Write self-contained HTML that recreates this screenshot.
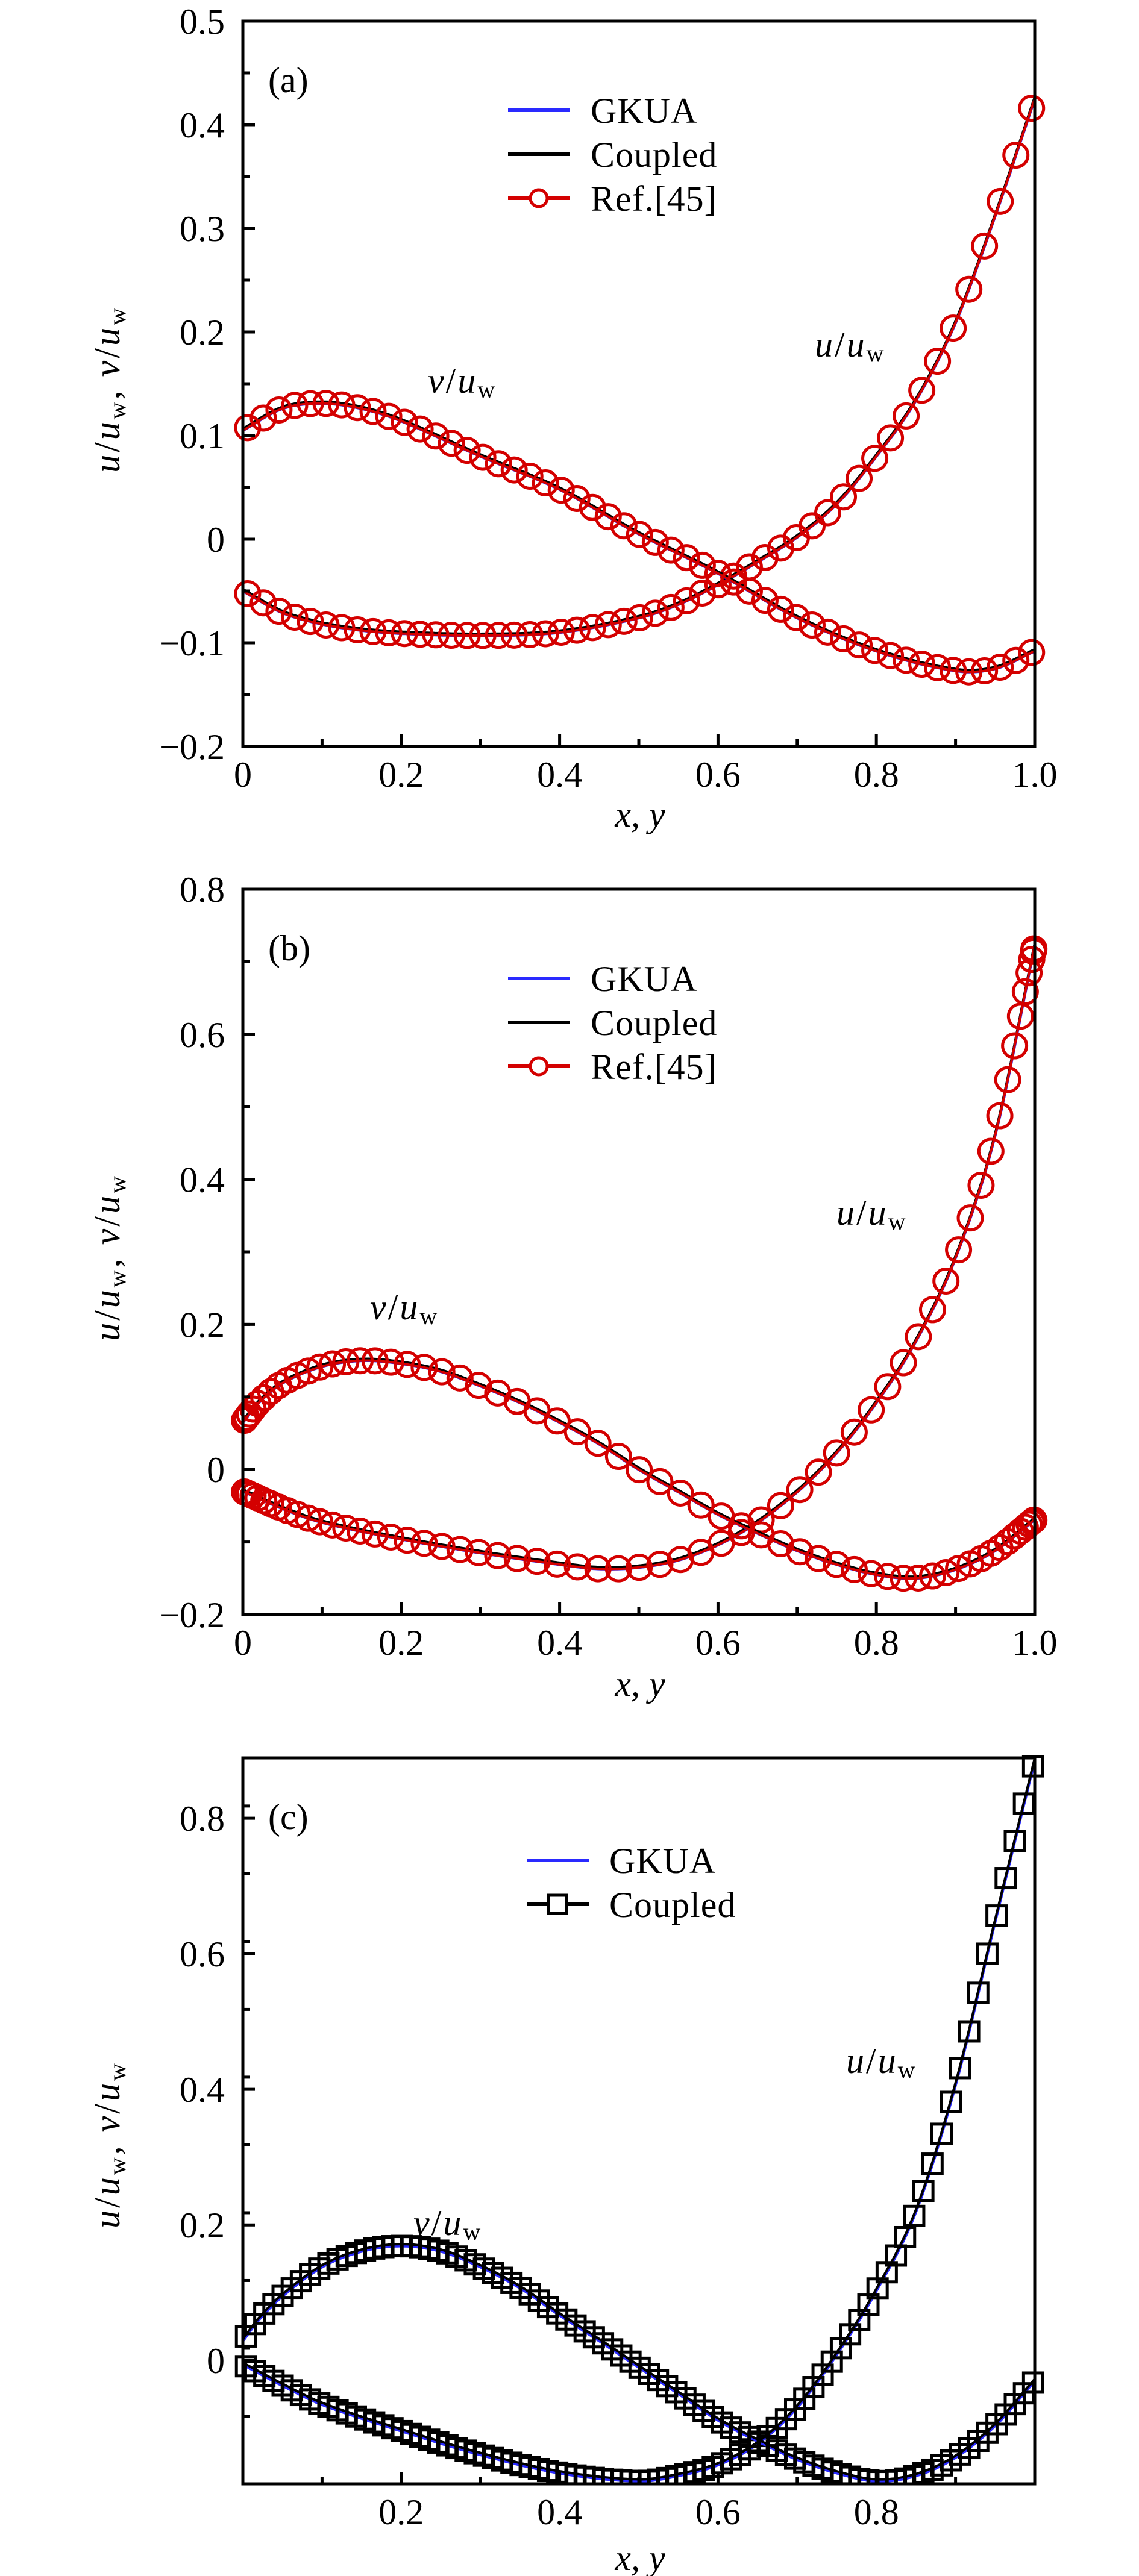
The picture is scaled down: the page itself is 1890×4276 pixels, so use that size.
<!DOCTYPE html>
<html><head><meta charset="utf-8">
<style>
html,body{margin:0;padding:0;background:#fff;}
svg{display:block;font-family:"Liberation Serif","DejaVu Serif",serif;}
</style></head>
<body>
<svg id="fig" xmlns="http://www.w3.org/2000/svg" width="1890" height="4276" viewBox="0 0 1890 4276"></svg>
<script>
// ---------- Panel (a) data ----------
const aX = [0,0.05,0.1,0.15,0.2,0.3,0.4,0.5,0.55,0.6,0.65,0.7,0.75,0.8,0.85,0.9,0.95,1.0];
const aU = [-0.05,-0.071,-0.082,-0.088,-0.091,-0.093,-0.090,-0.076,-0.063,-0.044,-0.022,0.002,0.034,0.080,0.134,0.209,0.312,0.425];
const aVx = [0,0.05,0.1,0.15,0.2,0.3,0.4,0.5,0.6,0.7,0.8,0.9,0.95,1.0];
const aV = [0.105,0.126,0.131,0.126,0.114,0.080,0.048,0.005,-0.033,-0.076,-0.108,-0.127,-0.125,-0.108];
const aYTicks = [0.5,0.4,0.3,0.2,0.1,0,-0.1,-0.2];
const aYLabels = ["0.5","0.4","0.3","0.2","0.1","0","\u22120.1","\u22120.2"];
// ---------- Panel (b) data ----------
const bX = [0,0.05,0.1,0.2,0.3,0.4,0.45,0.5,0.55,0.6,0.65,0.7,0.75,0.8,0.85,0.9,0.95,1.0];
const bU = [-0.03,-0.054,-0.073,-0.096,-0.115,-0.131,-0.137,-0.135,-0.125,-0.104,-0.073,-0.031,0.023,0.092,0.177,0.292,0.461,0.723];
const bVx = [0,0.02,0.05,0.1,0.15,0.2,0.25,0.3,0.35,0.4,0.45,0.5,0.55,0.6,0.65,0.7,0.75,0.8,0.85,0.9,0.95,1.0];
const bV = [0.065,0.092,0.119,0.142,0.150,0.146,0.135,0.115,0.092,0.065,0.035,0.0,-0.031,-0.062,-0.088,-0.112,-0.131,-0.145,-0.150,-0.138,-0.112,-0.069];
const bYTicks = [0.8,0.6,0.4,0.2,0,-0.2];
const bYLabels = ["0.8","0.6","0.4","0.2","0","\u22120.2"];
// ---------- Panel (c) data ----------
const cX = [0,0.05,0.1,0.2,0.3,0.4,0.5,0.55,0.6,0.65,0.7,0.75,0.8,0.85,0.9,0.95,1.0];
const cU = [-0.006,-0.037,-0.065,-0.104,-0.139,-0.166,-0.178,-0.170,-0.154,-0.123,-0.069,0.009,0.103,0.220,0.407,0.648,0.886];
const cVx = [0,0.02,0.05,0.1,0.15,0.2,0.25,0.3,0.35,0.4,0.45,0.5,0.55,0.6,0.65,0.7,0.75,0.8,0.85,0.9,0.95,1.0];
const cV = [0.029,0.060,0.095,0.138,0.161,0.169,0.161,0.138,0.107,0.067,0.029,-0.010,-0.049,-0.088,-0.119,-0.146,-0.166,-0.178,-0.170,-0.143,-0.096,-0.030];
const cYTicks = [0.8,0.6,0.4,0.2,0];
const cYLabels = ["0.8","0.6","0.4","0.2","0"];
const xTicksFull = [0,0.2,0.4,0.6,0.8,1.0];
const xLabelsFull = ["0","0.2","0.4","0.6","0.8","1.0"];
const xTicksC = [0.2,0.4,0.6,0.8];
const xLabelsC = ["0.2","0.4","0.6","0.8"];

const NS = "http://www.w3.org/2000/svg";
const svg = document.getElementById('fig');
function mk(tag, attrs, parent){
  const e = document.createElementNS(NS, tag);
  for (const k in attrs) e.setAttribute(k, attrs[k]);
  (parent||svg).appendChild(e);
  return e;
}
function interp(xs, ys, x){
  let i = 0;
  while (i < xs.length-2 && x > xs[i+1]) i++;
  const x0=xs[i], x1=xs[i+1];
  const y0=ys[i], y1=ys[i+1];
  const h = x1-x0;
  const m0 = i>0 ? (ys[i+1]-ys[i-1])/(xs[i+1]-xs[i-1]) : (y1-y0)/h;
  const m1 = i<xs.length-2 ? (ys[i+2]-ys[i])/(xs[i+2]-xs[i]) : (y1-y0)/h;
  const t = (x-x0)/h, t2=t*t, t3=t2*t;
  return (2*t3-3*t2+1)*y0 + (t3-2*t2+t)*h*m0 + (-2*t3+3*t2)*y1 + (t3-t2)*h*m1;
}

const X0 = 403, X1 = 1717;
function panel(cfg){
  const g = mk('g', {});
  
  
  const sx = v => X0 + (v - 0) * (X1 - X0);
  const sy = v => cfg.top + (cfg.ymax - v) / (cfg.ymax - cfg.ymin) * (cfg.bottom - cfg.top);
  const cid = cfg.name + '-clip';
  const defs = mk('defs', {}, g);
  const cp = mk('clipPath', {id: cid}, defs);
  mk('rect', {x: X0-30, y: cfg.top-40, width: X1-X0+60, height: cfg.bottom-cfg.top+40}, cp);

  const plot = mk('g', {'clip-path': 'url(#'+cid+')'}, g);
  
  

  function curvePath(xs, ys){
    let d = '';
    for (let k=0;k<=400;k++){
      const x = k/400;
      const y = interp(xs, ys, x);
      d += (k?'L':'M') + sx(x).toFixed(1) + ',' + sy(y).toFixed(1);
    }
    return d;
  }
  const curves = [[cfg.xu, cfg.u, 'u'], [cfg.xv, cfg.v, 'v']];
  curves.forEach(([xs, ys, nm]) => {
    const p1 = mk('path', {d: curvePath(xs, ys), fill:'none', stroke:'#2a2aff', 'stroke-width':5}, plot);
    
    
    const p2 = mk('path', {d: curvePath(xs, ys), fill:'none', stroke:'#000', 'stroke-width':4, transform:'translate(0,-3)'}, plot);
    
    
    if (cfg.marker === 'circle'){
      const p3 = mk('path', {d: curvePath(xs, ys), fill:'none', stroke:'#d40000', 'stroke-width':4}, plot);
      
      
    }
    const mg = mk('g', {}, plot);
    
    
    const N = cfg.nMarkers;
    for (let k=0;k<=N;k++){
      let x = cfg.cluster ? 0.5*(1-Math.cos(Math.PI*k/N)) : k/N;
      x = cfg.x0m + x*(cfg.x1m-cfg.x0m);
      const y = interp(xs, ys, x);
      if (cfg.marker === 'circle'){
        const c = mk('circle', {cx: sx(x), cy: sy(y), r: 20, fill:'none', stroke:'#d40000', 'stroke-width':5}, mg);
        
        
      } else {
        const s = mk('rect', {x: sx(x)-16, y: sy(y)-16, width:32, height:32, fill:'none', stroke:'#000', 'stroke-width':5}, mg);
        
        
      }
    }
  });

  const fr = mk('rect', {x:X0, y:cfg.top, width:X1-X0, height:cfg.bottom-cfg.top, fill:'none', stroke:'#000', 'stroke-width':5}, g);
  
  
  cfg.yTicks.forEach((v, i) => {
    const y = sy(v);
    const t = mk('line', {x1:X0, x2:X0+20, y1:y, y2:y, stroke:'#000', 'stroke-width':5}, g);
    
    
    const lb = mk('text', {x:373, y:y+21, 'text-anchor':'end', 'font-size':60}, g);
    lb.textContent = cfg.yLabels[i];
    
    
  });
  for (let v = cfg.ymin; v <= cfg.ymax + 1e-9; v += cfg.minorStep){
    const y = sy(v);
    const t = mk('line', {x1:X0, x2:X0+12, y1:y, y2:y, stroke:'#000', 'stroke-width':5}, g);
    
    
  }
  for (let k=1;k<10;k++){
    const x = sx(k/10);
    const t = mk('line', {x1:x, x2:x, y1:cfg.bottom, y2:cfg.bottom-(k%2===0?20:12), stroke:'#000', 'stroke-width':5}, g);
    
    
  }
  cfg.xTicks.forEach((v, i) => {
    const lb = mk('text', {x:sx(v), y:cfg.bottom+67, 'text-anchor':'middle', 'font-size':60}, g);
    lb.textContent = cfg.xLabels[i];
    
    
  });
  const xt = mk('text', {x:1062, y:cfg.xTitleY, 'text-anchor':'middle', 'font-size':60, 'font-style':'italic'}, g);
  xt.textContent = 'x, y';
  
  
  const yc = cfg.yTitleY;
  const yt = mk('text', {x:0, y:0, 'text-anchor':'middle', 'font-size':60, 'letter-spacing':'4', transform:'translate(198,'+yc+') rotate(-90)'}, g);
  yt.innerHTML = '<tspan font-style="italic">u</tspan>/<tspan font-style="italic">u</tspan><tspan font-size="40" dy="10">w</tspan><tspan dy="-10">, </tspan><tspan font-style="italic">v</tspan>/<tspan font-style="italic">u</tspan><tspan font-size="40" dy="10">w</tspan>';
  
  
  const pl = mk('text', {x:445, y:cfg.top+118, 'font-size':60}, g);
  pl.textContent = cfg.label;
  
  
  [['u', cfg.uLab], ['v', cfg.vLab]].forEach(([nm, pos]) => {
    const t = mk('text', {x:pos[0], y:pos[1], 'font-size':60, 'letter-spacing':'3'}, g);
    t.innerHTML = '<tspan font-style="italic">'+nm+'</tspan>/<tspan font-style="italic">u</tspan><tspan font-size="40" dy="8">w</tspan>';
    
    
  });
  const lg = mk('g', {}, g);
  
  
  cfg.legend.forEach((it, i) => {
    const y = cfg.legendY + i*73;
    const ln = mk('line', {x1:cfg.legendX, x2:cfg.legendX+103, y1:y, y2:y, stroke:it.color, 'stroke-width':6}, lg);
    
    
    if (it.marker === 'circle'){
      mk('circle', {cx:cfg.legendX+51, cy:y, r:14, fill:'#fff', stroke:it.color, 'stroke-width':5}, lg);
    } else if (it.marker === 'square'){
      mk('rect', {x:cfg.legendX+36, y:y-15, width:30, height:30, fill:'#fff', stroke:it.color, 'stroke-width':5}, lg);
    }
    const tx = mk('text', {x:cfg.legendX+137, y:y+21, 'font-size':60, 'letter-spacing':'1'}, lg);
    tx.textContent = it.text;
    
    
  });
}

const legRef = [{text:'GKUA', color:'#2a2aff'}, {text:'Coupled', color:'#000'}, {text:'Ref.[45]', color:'#d40000', marker:'circle'}];
panel({name:'panel-a', label:'(a)', top:35, bottom:1239, ymin:-0.2, ymax:0.5, minorStep:0.05,
  xu:aX, u:aU, xv:aVx, v:aV, yTicks:aYTicks, yLabels:aYLabels, xTicks:xTicksFull, xLabels:xLabelsFull,
  marker:'circle', nMarkers:50, cluster:false, x0m:0.006, x1m:0.996, xTitleY:1372, yTitleY:646,
  uLab:[1352,592], vLab:[710,652], legend:legRef, legendX:843, legendY:183});
panel({name:'panel-b', label:'(b)', top:1476, bottom:2680, ymin:-0.2, ymax:0.8, minorStep:0.1,
  xu:bX, u:bU, xv:bVx, v:bV, yTicks:bYTicks, yLabels:bYLabels, xTicks:xTicksFull, xLabels:xLabelsFull,
  marker:'circle', nMarkers:60, cluster:true, x0m:0.002, x1m:0.999, xTitleY:2815, yTitleY:2087,
  uLab:[1388,2033], vLab:[614,2190], legend:legRef, legendX:843, legendY:1624});
panel({name:'panel-c', label:'(c)', top:2918, bottom:4123, ymin:-0.182, ymax:0.889, minorStep:0.1,
  xu:cX, u:cU, xv:cVx, v:cV, yTicks:cYTicks, yLabels:cYLabels, xTicks:xTicksC, xLabels:xLabelsC,
  marker:'square', nMarkers:86, cluster:false, x0m:0.004, x1m:0.998, xTitleY:4266, yTitleY:3560,
  uLab:[1404,3441], vLab:[686,3710],
  legend:[{text:'GKUA', color:'#2a2aff'}, {text:'Coupled', color:'#000', marker:'square'}], legendX:874, legendY:3088});
</script>
</body></html>
